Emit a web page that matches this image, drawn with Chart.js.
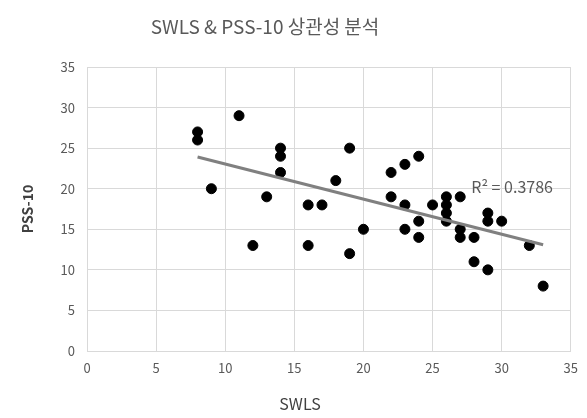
<!DOCTYPE html>
<html>
<head>
<meta charset="utf-8">
<script src="https://cdn.jsdelivr.net/npm/chart.js@4"></script>
<style>
  body { margin: 0; background: #fff; }
  #wrap { width: 587px; height: 418px; }
</style>
</head>
<body>
<div id="wrap"><canvas id="chart" width="587" height="418"></canvas></div>
<script>
// SWLS (x) and PSS-10 (y) scores
const swls = [8, 8, 9, 11, 12, 13, 14, 14, 14, 16, 16, 17, 18, 19, 19, 20,
              22, 22, 23, 23, 23, 24, 24, 24, 25, 26, 26, 26, 26,
              27, 27, 27, 28, 28, 29, 29, 29, 30, 32, 33];
const pss10 = [27, 26, 20, 29, 13, 19, 25, 24, 22, 18, 13, 18, 21, 25, 12, 15,
               22, 19, 23, 18, 15, 24, 16, 14, 18, 19, 18, 17, 16,
               19, 15, 14, 14, 11, 17, 16, 10, 16, 13, 8];

// linear trendline end points
const trendX = [8, 33];
const trendY = [23.9, 13.1];
const rSquared = '0.3786';

const xTicks = [0, 5, 10, 15, 20, 25, 30, 35];
const yTicks = [0, 5, 10, 15, 20, 25, 30, 35];

const textColor = '#595959';
const gridColor = '#d9d9d9';
const fontFamily = '"Noto Sans CJK KR", "Noto Sans", sans-serif';

const points = swls.map((x, i) => ({ x: x, y: pss10[i] }));
const trend = trendX.map((x, i) => ({ x: x, y: trendY[i] }));

// title, axis titles and R² label
const labelsPlugin = {
    id: 'labels',
    afterDraw(chart) {
        const ctx = chart.ctx;
        const xs = chart.scales.x;
        const ys = chart.scales.y;
        ctx.save();
        ctx.fillStyle = textColor;
        ctx.textAlign = 'center';
        ctx.textBaseline = 'middle';
        ctx.font = '19px ' + fontFamily;
        ctx.fillText('SWLS & PSS-10 상관성 분석', 265, 27);

        ctx.fillStyle = '#404040';
        ctx.font = '16px ' + fontFamily;
        ctx.fillText('SWLS', 300, 404);

        ctx.font = 'bold 14px ' + fontFamily;
        ctx.translate(28, (ys.top + ys.bottom) / 2);
        ctx.rotate(-Math.PI / 2);
        ctx.fillText('PSS-10', 0, 0);
        ctx.restore();

        ctx.save();
        ctx.fillStyle = textColor;
        ctx.font = '16px ' + fontFamily;
        ctx.textAlign = 'left';
        ctx.textBaseline = 'middle';
        ctx.fillText('R\u00B2 = ' + rSquared, xs.getPixelForValue(27.8), ys.getPixelForValue(20.2));
        ctx.restore();
    }
};

new Chart(document.getElementById('chart'), {
    type: 'scatter',
    data: {
        datasets: [
            {
                type: 'line',
                data: trend,
                borderColor: '#808080',
                borderWidth: 3,
                pointRadius: 0,
                fill: false,
                order: 0
            },
            {
                data: points,
                backgroundColor: '#000',
                borderColor: '#000',
                pointRadius: 5,
                order: 1
            }
        ]
    },
    options: {
        responsive: false,
        animation: false,
        layout: { padding: { left: 40, right: 14, top: 67, bottom: 0 } },
        plugins: {
            legend: { display: false },
            tooltip: { enabled: false }
        },
        scales: {
            x: {
                type: 'linear',
                min: 0,
                max: 35,
                afterBuildTicks: (s) => { s.ticks = xTicks.map(v => ({ value: v })); },
                afterFit: (s) => { s.height = 67; },
                grid: { color: gridColor, drawTicks: false },
                border: { color: gridColor },
                ticks: { color: textColor, font: { size: 13, family: fontFamily }, padding: 9 }
            },
            y: {
                type: 'linear',
                min: 0,
                max: 35,
                afterBuildTicks: (s) => { s.ticks = yTicks.map(v => ({ value: v })); },
                afterFit: (s) => { s.width = 47; },
                grid: { color: gridColor, drawTicks: false },
                border: { color: gridColor },
                ticks: { color: textColor, font: { size: 13, family: fontFamily }, padding: 12 }
            }
        }
    },
    plugins: [labelsPlugin]
});
</script>
</body>
</html>
